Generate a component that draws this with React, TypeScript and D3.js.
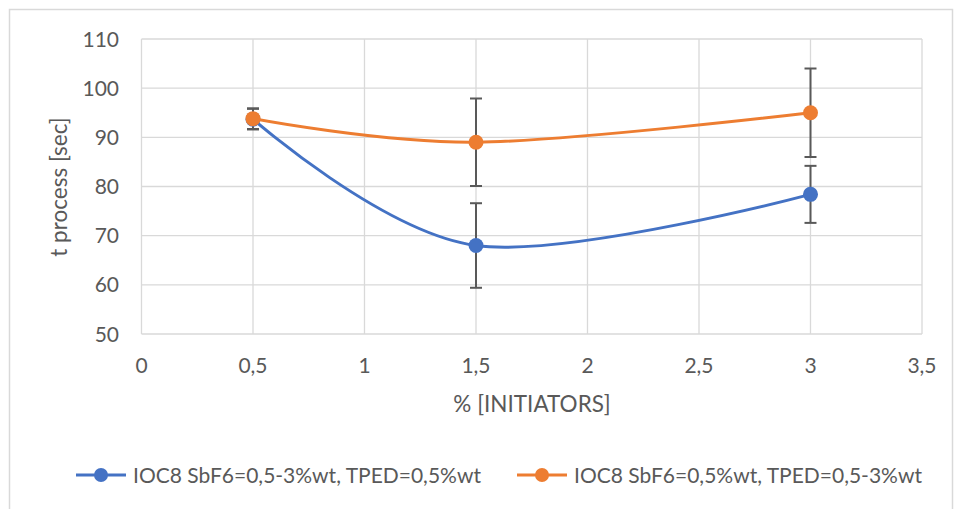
import React, { useEffect, useRef } from "react";
import * as d3 from "d3";

const xValues = [0.5, 1.5, 3];
const blueValues = [93.7, 68, 78.4];
const blueErrors = [2.1, 8.6, 5.8];
const orangeValues = [93.8, 89, 95];
const orangeErrors = [2.1, 8.9, 9];
const xTicks = [0, 0.5, 1, 1.5, 2, 2.5, 3, 3.5];
const yTicks = [50, 60, 70, 80, 90, 100, 110];
const seriesNames = [
  "IOC8 SbF6=0,5-3%wt, TPED=0,5%wt",
  "IOC8 SbF6=0,5%wt, TPED=0,5-3%wt",
];
const colors = ["#4472C4", "#ED7D31"];

export default function App() {
  const svgRef = useRef<SVGSVGElement>(null);

  useEffect(() => {
    const svg = d3.select(svgRef.current);
    svg.selectAll("*").remove();

    const font = "Lato, 'Open Sans', sans-serif";
    const textColor = "#595959";

    const x = d3.scaleLinear().domain([0, 3.5]).range([141.5, 922]);
    const y = d3.scaleLinear().domain([50, 110]).range([334, 39]);

    // outer frame
    svg
      .append("rect")
      .attr("x", 9.5)
      .attr("y", 9.5)
      .attr("width", 943)
      .attr("height", 520)
      .attr("fill", "#fff")
      .attr("stroke", "#D9D9D9")
      .attr("stroke-width", 1.5);

    // --- GRID ---
    const grid = svg.append("g").attr("stroke", "#D9D9D9").attr("stroke-width", 1.3);
    grid
      .selectAll("line.h")
      .data(yTicks)
      .join("line")
      .attr("x1", x(0))
      .attr("x2", x(3.5))
      .attr("y1", (d) => y(d))
      .attr("y2", (d) => y(d));
    grid
      .selectAll("line.v")
      .data(xTicks)
      .join("line")
      .attr("x1", (d) => x(d))
      .attr("x2", (d) => x(d))
      .attr("y1", y(110))
      .attr("y2", y(50));

    // --- TICK LABELS ---
    svg
      .append("g")
      .selectAll("text")
      .data(yTicks)
      .join("text")
      .attr("x", 119)
      .attr("y", (d) => y(d) + 7.5)
      .attr("text-anchor", "end")
      .style("font-family", font)
      .style("font-size", "21px")
      .style("fill", textColor)
      .text((d) => d);

    svg
      .append("g")
      .selectAll("text")
      .data(xTicks)
      .join("text")
      .attr("x", (d) => x(d))
      .attr("y", 373)
      .attr("text-anchor", "middle")
      .style("font-family", font)
      .style("font-size", "21px")
      .style("fill", textColor)
      .text((d) => String(d).replace(".", ","));

    // --- AXIS TITLES ---
    svg
      .append("text")
      .attr("x", 532)
      .attr("y", 412)
      .attr("text-anchor", "middle")
      .style("font-family", font)
      .style("font-size", "22.5px")
      .style("fill", textColor)
      .text("% [INITIATORS]");

    svg
      .append("text")
      .attr("transform", `translate(67,187) rotate(-90)`)
      .attr("text-anchor", "middle")
      .style("font-family", font)
      .style("font-size", "22.5px")
      .style("fill", textColor)
      .text("t process [sec]");

    // --- SERIES ---
    const line = d3
      .line<number>()
      .x((_, i) => x(xValues[i]))
      .y((d) => y(d))
      .curve(d3.curveCatmullRom.alpha(0));

    const series = [
      { values: blueValues, errors: blueErrors },
      { values: orangeValues, errors: orangeErrors },
    ];

    // error bars first so markers sit on top
    series.forEach((s) => {
      const eb = svg.append("g").attr("stroke", "#595959").attr("stroke-width", 2);
      s.values.forEach((v, i) => {
        const cx = x(xValues[i]);
        eb.append("line")
          .attr("x1", cx).attr("x2", cx)
          .attr("y1", y(v + s.errors[i])).attr("y2", y(v - s.errors[i]));
        [v + s.errors[i], v - s.errors[i]].forEach((e) => {
          eb.append("line")
            .attr("x1", cx - 6).attr("x2", cx + 6)
            .attr("y1", y(e)).attr("y2", y(e));
        });
      });
    });

    series.forEach((s, k) => {
      svg
        .append("path")
        .datum(s.values)
        .attr("fill", "none")
        .attr("stroke", colors[k])
        .attr("stroke-width", 3)
        .attr("stroke-linecap", "round")
        .attr("d", line);
      svg
        .append("g")
        .selectAll("circle")
        .data(s.values)
        .join("circle")
        .attr("cx", (_, i) => x(xValues[i]))
        .attr("cy", (d) => y(d))
        .attr("r", 7.5)
        .attr("fill", colors[k]);
    });

    // --- LEGEND ---
    const legendX = [76, 517];
    seriesNames.forEach((name, k) => {
      const g = svg.append("g").attr("transform", `translate(${legendX[k]},475)`);
      g.append("line")
        .attr("x1", 0).attr("x2", 50)
        .attr("stroke", colors[k]).attr("stroke-width", 3);
      g.append("circle").attr("cx", 25).attr("r", 7).attr("fill", colors[k]);
      g.append("text")
        .attr("x", 57)
        .attr("y", 7.5)
        .style("font-family", font)
        .style("font-size", "21px")
        .style("fill", textColor)
        .text(name);
    });
  }, []);

  return (
    <svg
      ref={svgRef}
      width={955}
      height={509}
      style={{ position: "absolute", left: 0, top: 0, background: "#fff" }}
    />
  );
}
